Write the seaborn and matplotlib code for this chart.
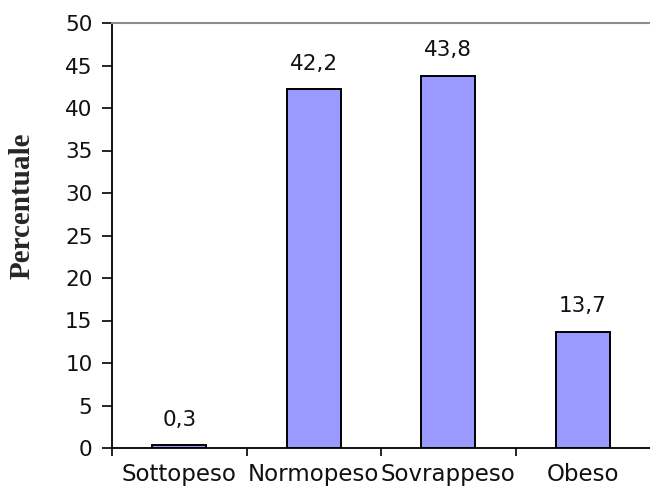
import matplotlib
matplotlib.use("Agg")
import matplotlib.pyplot as plt
import seaborn as sns
import pandas as pd
from matplotlib.ticker import FixedLocator, MultipleLocator

categorie = ["Sottopeso", "Normopeso", "Sovrappeso", "Obeso"]
percentuali = [0.3, 42.2, 43.8, 13.7]
etichette = ["0,3", "42,2", "43,8", "13,7"]

df = pd.DataFrame({"categoria": categorie, "percentuale": percentuali})

sns.set_style("white")
plt.rcParams["font.family"] = ["DejaVu Sans"]

fig = plt.figure(figsize=(6.5, 4.88), dpi=100)
ax = fig.add_axes([112 / 650, 40 / 488, (650 - 112) / 650, (448 - 23) / 488])

sns.barplot(data=df, x="categoria", y="percentuale", color="#9999FF",
            saturation=1, edgecolor="black", linewidth=1.4, width=0.4, ax=ax)

ax.bar_label(ax.containers[0], labels=etichette, padding=11, fontsize=15.5,
             color="#111111")

ax.set_ylim(0, 50)
ax.set_xlim(-0.5, 3.5)
ax.yaxis.set_major_locator(MultipleLocator(5))
ax.xaxis.set_minor_locator(FixedLocator([-0.5, 0.5, 1.5, 2.5]))
ax.tick_params(axis="x", which="major", length=0, pad=11, labelsize=16.5,
               labelcolor="#111111")
ax.tick_params(axis="x", which="minor", length=6, width=1.2, color="black",
               direction="out", bottom=True)
ax.tick_params(axis="y", length=7, width=1.2, color="black", direction="out",
               left=True, labelsize=15.5, pad=7, labelcolor="#111111")

ax.set_xlabel("")
ax.set_ylabel("Percentuale", family="Liberation Serif", fontweight="bold",
              fontsize=21)
ax.yaxis.set_label_coords((36 - 112) / 538, (448 - 206) / 425)

for s in ("left", "bottom"):
    ax.spines[s].set_color("black")
    ax.spines[s].set_linewidth(1.3)
ax.spines["top"].set_color("#8c8c8c")
ax.spines["top"].set_linewidth(1.5)
ax.spines["right"].set_visible(False)

fig.savefig("out.png", dpi=100, facecolor="white")
